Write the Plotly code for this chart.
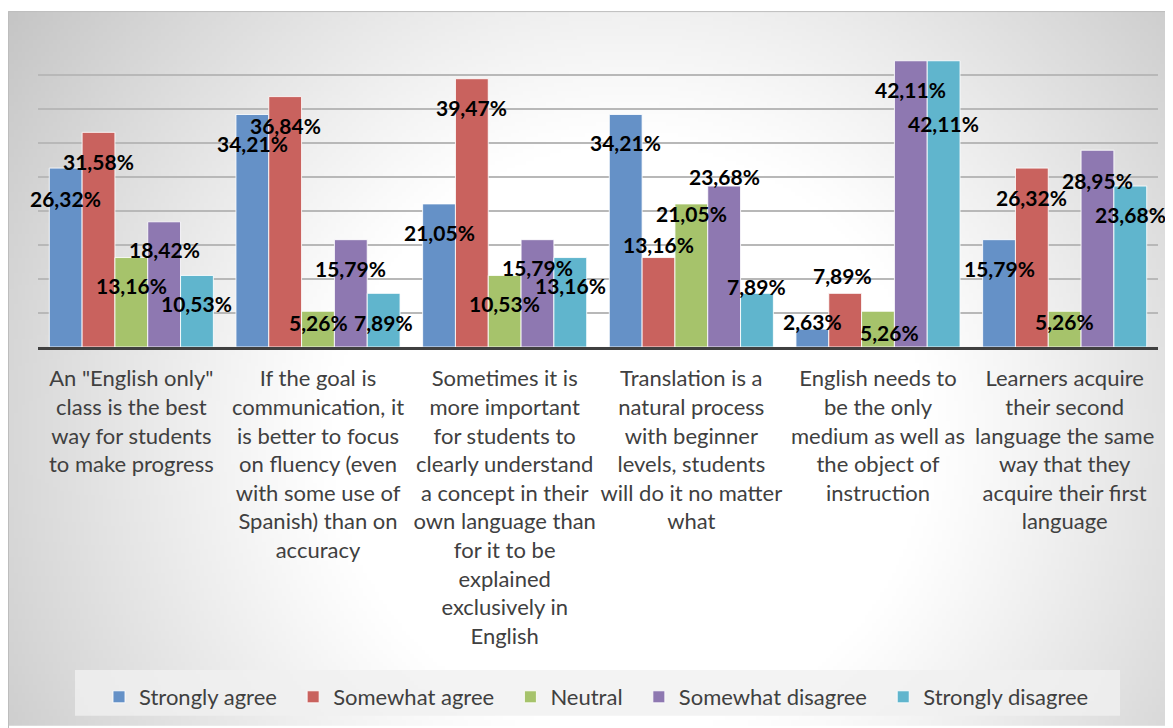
import base64, struct, zlib
import numpy as np
import plotly.graph_objects as go

# ---------------- data ----------------
categories = [
    'An "English only" class is the best way for students to make progress',
    'If the goal is communication, it is better to focus on fluency (even with some use of Spanish) than on accuracy',
    'Sometimes it is more important for students to clearly understand a concept in their own language than for it to be explained exclusively in English',
    'Translation is a natural process with beginner levels, students will do it no matter what',
    'English needs to be the only medium as well as the object of instruction',
    'Learners acquire their second language the same way that they acquire their first language',
]
tick_labels = [
    'An "English only"<br>class is the best<br>way for students<br>to make progress',
    'If the goal is<br>communication, it<br>is better to focus<br>on fluency (even<br>with some use of<br>Spanish) than on<br>accuracy',
    'Sometimes it is<br>more important<br>for students to<br>clearly understand<br>a concept in their<br>own language than<br>for it to be<br>explained<br>exclusively in<br>English',
    'Translation is a<br>natural process<br>with beginner<br>levels, students<br>will do it no matter<br>what',
    'English needs to<br>be the only<br>medium as well as<br>the object of<br>instruction',
    'Learners acquire<br>their second<br>language the same<br>way that they<br>acquire their first<br>language',
]
series_names = ["Strongly agree", "Somewhat agree", "Neutral", "Somewhat disagree", "Strongly disagree"]
strongly_agree = [26.32, 34.21, 21.05, 34.21, 2.63, 15.79]
somewhat_agree = [31.58, 36.84, 39.47, 13.16, 7.89, 26.32]
neutral = [13.16, 5.26, 10.53, 21.05, 5.26, 5.26]
somewhat_disagree = [18.42, 15.79, 15.79, 23.68, 42.11, 28.95]
strongly_disagree = [10.53, 7.89, 13.16, 7.89, 42.11, 23.68]
series_values = [strongly_agree, somewhat_agree, neutral, somewhat_disagree, strongly_disagree]

# ---------------- style ----------------
colors = ["#6591C7", "#C9625E", "#A6C36B", "#8E78B1", "#60B5CD"]
# label centre offset below bar top (px), as placed in the original
label_dy = [
    [30, 29, 29, 28, -8, 29],
    [29, 29, 29, -13, -18, 29],
    [28, 11, 28, 10, 21, 10],
    [28, 29, 28, -10, 29, 30],
    [28, 29, 28, -7, 63, 28],
]
label_dx = [
    [0, 0, 0, 0, 0, 0],
    [0, 0, 0, 0, -3, 0],
    [0, 0, 0, 0, 11, 0],
    [0, 0, 0, 0, 0, 0],
    [0, 0, 0, 0, 0, 0],
]

OFF = 8  # page body margin
W, H = 1173 - OFF, 728 - OFF
ML, MR, MT = 38 - OFF, 15, 41 - OFF
MB = H - (348 - OFF)
PW, PH = W - ML - MR, H - MT - MB
BAR_W = PW / len(categories) * (1 - 0.121) / len(series_names)


def px_to_paper_x(px):  # px in reference page coordinates
    return (px - OFF - ML) / PW


def px_to_paper_y(py):
    return (H - MB - (py - OFF)) / PH


# background gradient image (Excel-like radial fill), page coords 8..1173 x 11..728
gw, gh = 300, 184
xs = np.linspace(OFF, 1173, gw)
ys = np.linspace(11, 728, gh)
X, Y = np.meshgrid(xs, ys)
d = np.sqrt((X - 630) ** 2 + (Y - 440) ** 2)
t = np.clip((d - 300) / 500.0, 0, 1)
val = 255 - 64 * t ** 1.1
val = np.clip(val, 185, 255).astype(np.uint8)
arr = np.stack([val, val, val], axis=-1)


def png_bytes(a):
    h, w, _ = a.shape
    raw = b"".join(b"\x00" + a[r].tobytes() for r in range(h))

    def chunk(tag, data):
        return struct.pack(">I", len(data)) + tag + data + struct.pack(">I", zlib.crc32(tag + data) & 0xFFFFFFFF)

    return (b"\x89PNG\r\n\x1a\n" + chunk(b"IHDR", struct.pack(">IIBBBBB", w, h, 8, 2, 0, 0, 0))
            + chunk(b"IDAT", zlib.compress(raw, 9)) + chunk(b"IEND", b""))


bg_uri = "data:image/png;base64," + base64.b64encode(png_bytes(arr)).decode()

fig = go.Figure()
for name, vals, col in zip(series_names, series_values, colors):
    fig.add_trace(go.Bar(
        x=categories, y=vals, name=name + "\u00a0\u00a0",
        marker=dict(color=col, line=dict(color="rgba(255,255,255,0.85)", width=1)),
        hoverinfo="x+y",
    ))

annotations = []
for si, vals in enumerate(series_values):
    for ci, v in enumerate(vals):
        annotations.append(dict(
            x=categories[ci], y=v, xref="x", yref="y",
            text=f"{v:.2f}%".replace(".", ","),
            showarrow=False, xanchor="center", yanchor="middle",
            xshift=(si - 2) * BAR_W + label_dx[si][ci], yshift=-label_dy[si][ci],
            font=dict(family="Lato", size=21, color="#000000", weight="bold"),
        ))

fig.update_layout(
    width=W, height=H,
    margin=dict(l=ML, r=MR, t=MT, b=MB, pad=0),
    paper_bgcolor="white", plot_bgcolor="rgba(0,0,0,0)",
    barmode="group", bargap=0.121, bargroupgap=0,
    showlegend=True,
    legend=dict(orientation="h", x=px_to_paper_x(602), xanchor="center", y=px_to_paper_y(697), yanchor="middle",
                bgcolor="rgba(0,0,0,0)", font=dict(family="Lato", size=22, color="#404040"),
                itemclick=False),
    annotations=annotations,
    images=[dict(source=bg_uri, xref="paper", yref="paper",
                 x=px_to_paper_x(OFF), y=px_to_paper_y(11),
                 sizex=(1173 - OFF) / PW, sizey=(728 - 11) / PH,
                 xanchor="left", yanchor="top", sizing="stretch", layer="below")],
    shapes=[
        dict(type="rect", xref="paper", yref="paper", layer="below",
             x0=px_to_paper_x(OFF + 0.5), x1=px_to_paper_x(1180), y0=px_to_paper_y(735), y1=px_to_paper_y(11.5),
             line=dict(color="#bdbdbd", width=1), fillcolor="rgba(0,0,0,0)"),
        dict(type="rect", xref="paper", yref="paper", layer="below",
             x0=px_to_paper_x(75), x1=px_to_paper_x(1120), y0=px_to_paper_y(718), y1=px_to_paper_y(672),
             line=dict(width=0), fillcolor="rgba(240,240,240,0.8)"),
    ],
    hovermode="closest",
)
fig.update_xaxes(
    type="category", range=[-0.5, len(categories) - 0.5], autorange=False,
    tickvals=categories, ticktext=tick_labels, tickangle=0,
    tickfont=dict(family="Lato", size=22, color="#404040"),
    showline=True, linecolor="#404040", linewidth=3, ticks="", ticklabelstandoff=10,
    showgrid=False, zeroline=False,
)
fig.update_yaxes(
    range=[0, 45.02], autorange=False, dtick=5, showticklabels=False, showgrid=True,
    gridcolor="#b8b8b8", gridwidth=1.5, zeroline=False, showline=False, ticks="",
)

fig.write_html("out.html")
